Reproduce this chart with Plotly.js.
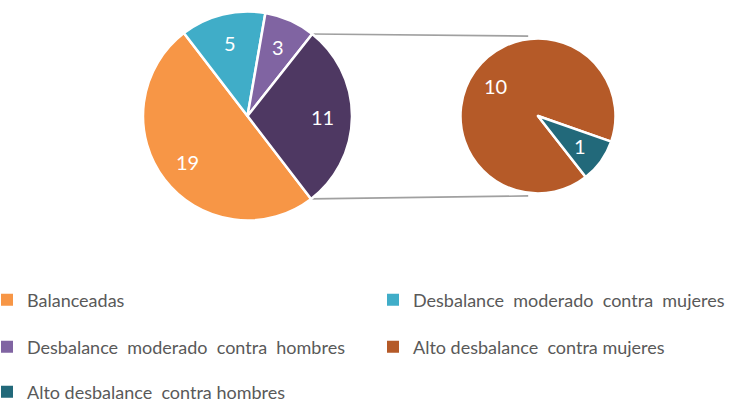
<!DOCTYPE html>
<html><head><meta charset="utf-8">
<script src="https://cdn.plot.ly/plotly-3.0.1.min.js"></script>
<style>html,body{margin:0;padding:0;background:#fff}</style>
</head><body>
<div id="chart" style="width:751px;height:402px"></div>
<script>
// ---- data ----
const mainLabels = ['Balanceadas', 'Desbalance moderado contra mujeres', 'Desbalance moderado contra hombres', 'Alto desbalance'];
const mainValues = [19, 5, 3, 11];
const mainColors = ['#F79646', '#40ADC8', '#8064A2', '#4E3862'];
const subLabels = ['Alto desbalance contra mujeres', 'Alto desbalance contra hombres'];
const subValues = [10, 1];
const subColors = ['#B55A28', '#22697A'];
// legend entries: [category, shown text (spacing as in the original), column, row]
const legendItems = [
  ['Balanceadas', 'Balanceadas', 0, 0],
  ['Desbalance moderado contra mujeres', 'Desbalance\u00a0 moderado\u00a0 contra\u00a0 mujeres', 1, 0],
  ['Desbalance moderado contra hombres', 'Desbalance\u00a0 moderado\u00a0 contra\u00a0 hombres', 0, 1],
  ['Alto desbalance contra mujeres', 'Alto desbalance\u00a0 contra mujeres', 1, 1],
  ['Alto desbalance contra hombres', 'Alto desbalance\u00a0 contra hombres', 0, 2]
];

// ---- layout geometry ----
const W = 751, H = 402;
const mainC = {x: 247.5, y: 116, r: 104.5};
const subC = {x: 538, y: 116, r: 77.5};
const mainRot = 142.5, subRot = 142;
const FONT = 'Lato, "Open Sans", sans-serif';
const colX = [-13, 373];
const rowY = [300, 347, 392];

function dom(c) {
  return {x: [(c.x - c.r) / W, (c.x + c.r) / W], y: [1 - (c.y + c.r) / H, 1 - (c.y - c.r) / H]};
}
function lookup(label) {
  let i = mainLabels.indexOf(label);
  if (i >= 0) return {v: mainValues[i], c: mainColors[i]};
  i = subLabels.indexOf(label);
  return {v: subValues[i], c: subColors[i]};
}

const traces = [];
const layout = {
  width: W, height: H, margin: {l: 0, r: 0, t: 0, b: 0, autoexpand: false},
  paper_bgcolor: '#ffffff', showlegend: true, annotations: []
};
legendItems.forEach((it, k) => {
  const id = k === 0 ? 'legend' : 'legend' + (k + 1);
  traces.push({
    type: 'pie', labels: [it[1]], values: [lookup(it[0]).v],
    marker: {colors: [lookup(it[0]).c], line: {width: 0}},
    domain: {x: [mainC.x / W, (mainC.x + 0.05) / W], y: [1 - mainC.y / H, 1 - (mainC.y - 0.05) / H]},
    textinfo: 'none', hoverinfo: 'skip', sort: false, legend: id, showlegend: true
  });
  layout[id] = {orientation: 'h', x: colX[it[2]] / W, xanchor: 'left', y: 1 - rowY[it[3]] / H, yanchor: 'middle',
    font: {family: FONT, size: 18, color: '#595959'}, bgcolor: 'rgba(0,0,0,0)', borderwidth: 0};
});

function pieTrace(labels, values, colors, rot, c) {
  return {
    type: 'pie', labels: labels, values: values, sort: false,
    direction: 'clockwise', rotation: rot, domain: dom(c),
    marker: {colors: colors, line: {color: '#ffffff', width: 2.5}},
    textinfo: 'none', hoverinfo: 'label+value', showlegend: false
  };
}
traces.push(pieTrace(mainLabels, mainValues, mainColors, mainRot, mainC));
traces.push(pieTrace(subLabels, subValues, subColors, subRot, subC));

function pt(c, a, rr) { return [c.x + rr * Math.sin(a), c.y - rr * Math.cos(a)]; }
// value labels placed along each slice's bisector
function addLabels(values, rot, c, frac) {
  const tot = values.reduce((a, b) => a + b, 0);
  let cum = 0;
  values.forEach(v => {
    const a = (rot + (cum + v / 2) / tot * 360) * Math.PI / 180;
    cum += v;
    const p = pt(c, a, c.r * frac);
    layout.annotations.push({xref: 'paper', yref: 'paper', x: p[0] / W, y: 1 - p[1] / H, text: String(v),
      showarrow: false, xanchor: 'center', yanchor: 'middle', font: {family: FONT, size: 20, color: '#ffffff'}});
  });
}
addLabels(mainValues, mainRot, mainC, 0.72);
addLabels(subValues, subRot, subC, 0.67);

// connector lines: from edges of the aggregated slice to the secondary pie
const total = mainValues.reduce((a, b) => a + b, 0);
const aggIdx = mainValues.length - 1;
const before = mainValues.slice(0, aggIdx).reduce((a, b) => a + b, 0);
const a1 = (mainRot + before / total * 360) * Math.PI / 180;
const a2 = (mainRot + (before + mainValues[aggIdx]) / total * 360) * Math.PI / 180;
const p1 = pt(mainC, a1, mainC.r), p2 = pt(mainC, a2, mainC.r);
const q1 = pt(subC, -7 * Math.PI / 180, subC.r + 3), q2 = pt(subC, 187 * Math.PI / 180, subC.r + 3);
function line(p, q) {
  return {type: 'line', xref: 'paper', yref: 'paper', x0: p[0] / W, y0: 1 - p[1] / H, x1: q[0] / W, y1: 1 - q[1] / H,
    line: {color: '#A0A0A0', width: 1.6}, layer: 'below'};
}
layout.shapes = [line(p1, q1), line(p2, q2)];

Plotly.newPlot('chart', traces, layout, {staticPlot: true});
</script>
</body></html>
